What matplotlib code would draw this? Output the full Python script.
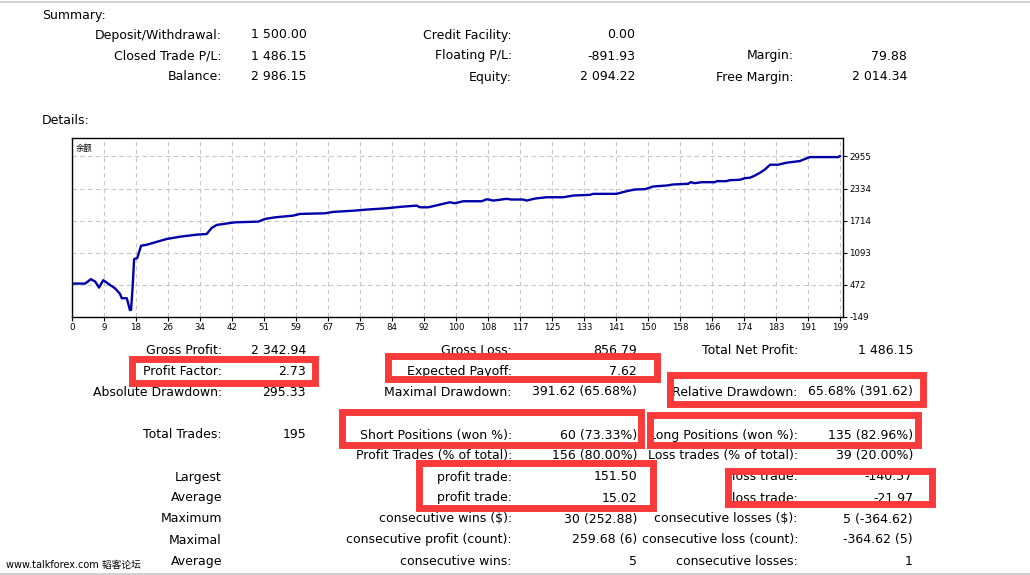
import numpy as np
import matplotlib.pyplot as plt
from matplotlib.patches import Rectangle
from matplotlib.lines import Line2D

W, H = 1030, 575

# balance curve (trade number, balance)
trade_no = [0, 3.4, 4.9, 6.0, 7.0, 8.1, 9.8, 11.1, 12.4, 12.9,
            14.2, 15.0, 15.3, 15.7, 16.1, 16.9, 17.9, 19.4, 24.5, 28.0,
            32.3, 34.9, 36.2, 37.5, 42.2, 48.3, 50.0, 52.6, 57.3, 59.1,
            65.6, 67.7, 73.3, 76.4, 81.5, 85.0, 89.3, 90.2, 92.3, 95.4,
            97.9, 99.2, 101.4, 106.2, 107.5, 109.2, 112.6, 113.9, 116.9, 117.8,
            120.0, 123.0, 127.3, 129.9, 134.2, 135.1, 141.1, 143.7, 145.9, 148.5,
            150.6, 154.1, 155.8, 159.7, 160.3, 161.4, 163.2, 166.6, 167.1, 169.6,
            170.5, 173.1, 174.4, 175.7, 177.0, 178.3, 179.6, 180.9, 183.0, 185.2,
            188.6, 189.9, 191.2, 198.6, 199.0]
balance = [497, 497, 582, 536, 419, 563, 472, 408, 303, 214,
           214, -13, -13, 419, 970, 990, 1228, 1248, 1358, 1403,
           1442, 1455, 1572, 1630, 1680, 1694, 1746, 1777, 1810, 1843,
           1855, 1882, 1907, 1927, 1952, 1979, 2004, 1971, 1971, 2024,
           2068, 2049, 2088, 2088, 2127, 2101, 2134, 2121, 2121, 2101,
           2140, 2165, 2165, 2198, 2212, 2231, 2231, 2282, 2315, 2321,
           2373, 2392, 2412, 2425, 2456, 2437, 2456, 2456, 2476, 2476,
           2495, 2503, 2534, 2542, 2586, 2639, 2703, 2794, 2794, 2833,
           2864, 2903, 2941, 2941, 2961]

x_tick_labels = ["0", "9", "18", "26", "34", "42", "51", "59", "67", "75", "84",
                 "92", "100", "108", "117", "125", "133", "141", "150", "158",
                 "166", "174", "183", "191", "199"]
y_ticks = [-149, 472, 1093, 1714, 2334, 2955]

summary_rows = [
    ["Deposit/Withdrawal:", "1 500.00", "Credit Facility:", "0.00", "", ""],
    ["Closed Trade P/L:", "1 486.15", "Floating P/L:", "-891.93", "Margin:", "79.88"],
    ["Balance:", "2 986.15", "Equity:", "2 094.22", "Free Margin:", "2 014.34"],
]

detail_rows = [
    ["Gross Profit:", "2 342.94", "Gross Loss:", "856.79", "Total Net Profit:", "1 486.15"],
    ["Profit Factor:", "2.73", "Expected Payoff:", "7.62", "", ""],
    ["Absolute Drawdown:", "295.33", "Maximal Drawdown:", "391.62 (65.68%)",
     "Relative Drawdown:", "65.68% (391.62)"],
    ["Total Trades:", "195", "Short Positions (won %):", "60 (73.33%)",
     "Long Positions (won %):", "135 (82.96%)"],
    ["", "", "Profit Trades (% of total):", "156 (80.00%)",
     "Loss trades (% of total):", "39 (20.00%)"],
    ["Largest", "", "profit trade:", "151.50", "loss trade:", "-140.57"],
    ["Average", "", "profit trade:", "15.02", "loss trade:", "-21.97"],
    ["Maximum", "", "consecutive wins ($):", "30 (252.88)",
     "consecutive losses ($):", "5 (-364.62)"],
    ["Maximal", "", "consecutive profit (count):", "259.68 (6)",
     "consecutive loss (count):", "-364.62 (5)"],
    ["Average", "", "consecutive wins:", "5", "consecutive losses:", "1"],
]

fig = plt.figure(figsize=(W / 100, H / 100), dpi=100)
fig.patch.set_facecolor("white")


def put(x, y, s, ha="right", size=9, **kw):
    fig.text(x / W, 1 - y / H, s, ha=ha, va="center", fontsize=size,
             family="DejaVu Sans", color="black", **kw)


# summary block
put(42, 15, "Summary:", ha="left")
sum_y = [35, 56, 77]
for y, row in zip(sum_y, summary_rows):
    put(222, y, row[0])
    put(251, y, row[1], ha="left")
    put(512, y, row[2])
    put(635, y, row[3])
    put(794, y, row[4])
    put(907, y, row[5])

put(42, 121, "Details:", ha="left")

# balance chart
ax = fig.add_axes([72 / W, 1 - 317 / H, (843 - 72) / W, (317 - 138) / H])
ax.plot(trade_no, balance, color="#0000AA", lw=1.7)
ax.set_xlim(0, 199.8)
ax.set_ylim(-149, 3310)
ax.set_xticks(np.linspace(0, 199, 25))
ax.set_xticklabels(x_tick_labels)
ax.set_yticks(y_ticks)
ax.set_yticklabels([str(v) for v in y_ticks])
ax.yaxis.tick_right()
ax.tick_params(labelsize=6.2, length=3, width=0.8, pad=1.5)
ax.grid(color="#C8C8C8", linestyle=(0, (4, 3)), linewidth=0.8)
for sp in ax.spines.values():
    sp.set_linewidth(1.0)
ax.text(0.005, 0.94, "余额", transform=ax.transAxes, fontsize=6,
        family=["Noto Sans CJK SC", "DejaVu Sans"], va="center", ha="left")

# details block
det_y = [350.7, 371.7, 392, 435, 456, 477, 498, 519, 540, 561.5]
for y, row in zip(det_y, detail_rows):
    put(222, y, row[0])
    put(306, y, row[1])
    put(512, y, row[2])
    put(637, y, row[3])
    put(798, y, row[4])
    put(913, y, row[5])

fig.text(6 / W, 1 - 565 / H, "www.talkforex.com 韬客论坛", ha="left", va="center",
         fontsize=7, family=["DejaVu Sans", "Noto Sans CJK SC"])

# red highlight boxes (pixel centre lines)
boxes = [(131.5, 358.5, 314.5, 382.5),
         (387.5, 355.5, 657, 379),
         (670, 375, 923, 404),
         (341.5, 411.5, 641, 445),
         (649.5, 414.5, 918, 444.5),
         (418.5, 462.5, 652.5, 507.5),
         (727.5, 471, 932, 504)]
for x0, y0, x1, y1 in boxes:
    fig.add_artist(Rectangle((x0 / W, 1 - y1 / H), (x1 - x0) / W, (y1 - y0) / H,
                             transform=fig.transFigure, fill=False,
                             edgecolor="#FA3A3A", lw=5.0, zorder=10))

# thin frame lines at top and bottom of the screenshot
for y in [1.5, 573.5]:
    fig.add_artist(Line2D([0, 1], [1 - y / H, 1 - y / H], transform=fig.transFigure,
                          color="#C8C8C8", lw=1.2))

fig.savefig("out.png", dpi=100)
